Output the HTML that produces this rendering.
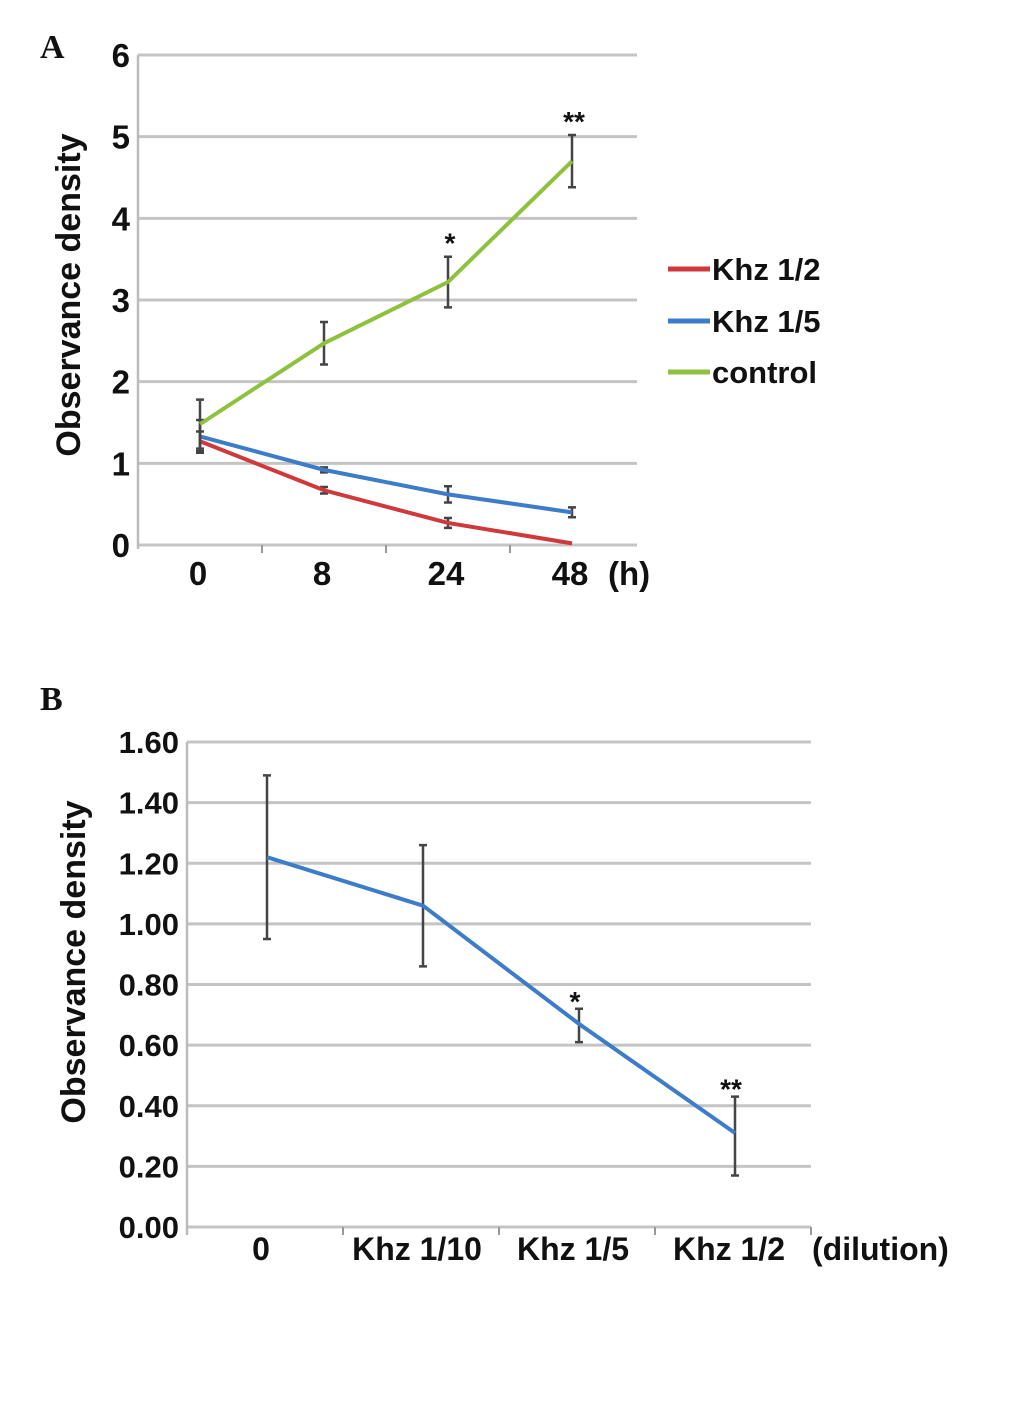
<!DOCTYPE html>
<html><head><meta charset="utf-8"><style>
body{margin:0;background:#fff;}
svg text{font-family:"Liberation Sans",sans-serif;font-weight:bold;fill:#111;}
</style></head><body>
<svg width="1033" height="1399">
<text x="40" y="58" style="font-family:'Liberation Serif',serif;font-size:34px">A</text>
<text x="40" y="710" style="font-family:'Liberation Serif',serif;font-size:34px">B</text>
<g id="chartA"></g>
<g id="chartB"></g>
</svg>
<script>
const aCats=["0","8","24","48"];
const aTicks=[0,1,2,3,4,5,6];
const aKhz12=[1.27,0.67,0.27,0.02];
const aKhz12Err=[0.12,0.04,0.06,0.0];
const aKhz15=[1.33,0.92,0.62,0.40];
const aKhz15Err=[0.2,0.03,0.1,0.06];
const aControl=[1.48,2.47,3.22,4.70];
const aControlErr=[0.3,0.26,0.31,0.32];
const aStars=["","","*","**"];
const bCats=["0","Khz 1/10","Khz 1/5","Khz 1/2"];
const bTicks=[0,0.2,0.4,0.6,0.8,1.0,1.2,1.4,1.6];
const bValues=[1.22,1.06,0.67,0.31];
const bErrHi=[1.49,1.26,0.72,0.43];
const bErrLo=[0.95,0.86,0.61,0.17];
const bStars=["","","*","**"];
const NS="http://www.w3.org/2000/svg";
function mk(p,t,a,txt){const e=document.createElementNS(NS,t);for(const k in a)e.setAttribute(k,a[k]);if(txt!==undefined)e.textContent=txt;p.appendChild(e);return e;}
function errBar(g,x,y1,y2){
 const e=mk(g,'path',{d:`M${x},${y1}V${y2}M${x-4},${y1}H${x+4}M${x-4},${y2}H${x+4}`,stroke:'#444','stroke-width':2.5,fill:'none'});
 
 
}
// Chart A
(function(){
 const g=document.getElementById('chartA');
 const L=138,R=637,T=55,B=545,max=6;
 const y=v=>B-(v/max)*(B-T);
 const cw=(R-L-3)/aCats.length;
 const x=i=>L+cw*(i+0.5);
 aTicks.forEach(t=>{
  const l=mk(g,'line',{x1:L,x2:R,y1:y(t),y2:y(t),stroke:'#c4c4c4','stroke-width':3});
  
  
  const tx=mk(g,'text',{x:130,y:y(t)+12,'text-anchor':'end','font-size':33},String(t));
  
  
 });
 mk(g,'line',{x1:L,x2:L,y1:T,y2:B+4,stroke:'#bbb','stroke-width':2.5});
 for(let i=1;i<aCats.length;i++)mk(g,'line',{x1:L+cw*i,x2:L+cw*i,y1:B,y2:B+8,stroke:'#999','stroke-width':2});
 aCats.forEach((c,i)=>{
  const t=mk(g,'text',{x:x(i)-2,y:585,'text-anchor':'middle','font-size':33},c);
  
  
 });
 mk(g,'text',{x:608,y:585,'font-size':33},'(h)');
 const yt=mk(g,'text',{x:0,y:0,'text-anchor':'middle','font-size':34,transform:'translate(80,295) rotate(-90)'},'Observance density');
 
 
 const series=[[aKhz12,aKhz12Err,'#d0393b','khz-1-2-line'],[aKhz15,aKhz15Err,'#3d7cc9','khz-1-5-line'],[aControl,aControlErr,'#8fc13f','control-line']];
 series.forEach(([v,e,c,n])=>{
  v.forEach((d,i)=>{if(e[i]>0)errBar(g,x(i),y(d+e[i]),y(d-e[i]));});
  const p=mk(g,'polyline',{points:v.map((d,i)=>x(i)+','+y(d)).join(' '),fill:'none',stroke:c,'stroke-width':4});
  
  
 });
 aStars.forEach((s,i)=>{if(s){const t=mk(g,'text',{x:x(i)+2,y:y(aControl[i]+aControlErr[i])-4,'text-anchor':'middle','font-size':28},s);}});
 [['Khz 1/2','#d0393b',269],['Khz 1/5','#3d7cc9',321],['control','#8fc13f',372]].forEach(([n,c,yy])=>{
  const lg=mk(g,'g',{});
  
  
  mk(lg,'line',{x1:668,x2:710,y1:yy,y2:yy,stroke:c,'stroke-width':5});
  mk(lg,'text',{x:712,y:yy+11,'font-size':31},n);
 });
})();
// Chart B
(function(){
 const g=document.getElementById('chartB');
 const L=187,R=811,T=742,B=1227,max=1.6;
 const y=v=>B-(v/max)*(B-T);
 const cw=(R-L)/bCats.length;
 const x=i=>L+cw*(i+0.5)+2;
 bTicks.forEach(t=>{
  const l=mk(g,'line',{x1:L,x2:R,y1:y(t),y2:y(t),stroke:'#c4c4c4','stroke-width':3});
  
  
  const tx=mk(g,'text',{x:179,y:y(t)+11,'text-anchor':'end','font-size':31},t.toFixed(2));
  
  
 });
 mk(g,'line',{x1:L,x2:L,y1:T,y2:B+8,stroke:'#bbb','stroke-width':2.5});
 for(let i=1;i<=bCats.length;i++)mk(g,'line',{x1:L+cw*i,x2:L+cw*i,y1:B,y2:B+8,stroke:'#999','stroke-width':2});
 bCats.forEach((c,i)=>{
  const t=mk(g,'text',{x:x(i)-6,y:1260,'text-anchor':'middle','font-size':32},c);
  
  
 });
 mk(g,'text',{x:812,y:1260,'font-size':32},'(dilution)');
 const yt=mk(g,'text',{x:0,y:0,'text-anchor':'middle','font-size':34,transform:'translate(85,962) rotate(-90)'},'Observance density');
 
 
 bValues.forEach((d,i)=>errBar(g,x(i),y(bErrHi[i]),y(bErrLo[i])));
 const p=mk(g,'polyline',{points:bValues.map((d,i)=>x(i)+','+y(d)).join(' '),fill:'none',stroke:'#3d7cc9','stroke-width':4});
 
 
 bStars.forEach((s,i)=>{if(s){const t=mk(g,'text',{x:x(i)-4,y:y(bErrHi[i])+2,'text-anchor':'middle','font-size':28},s);}});
})();
</script>
</body></html>
